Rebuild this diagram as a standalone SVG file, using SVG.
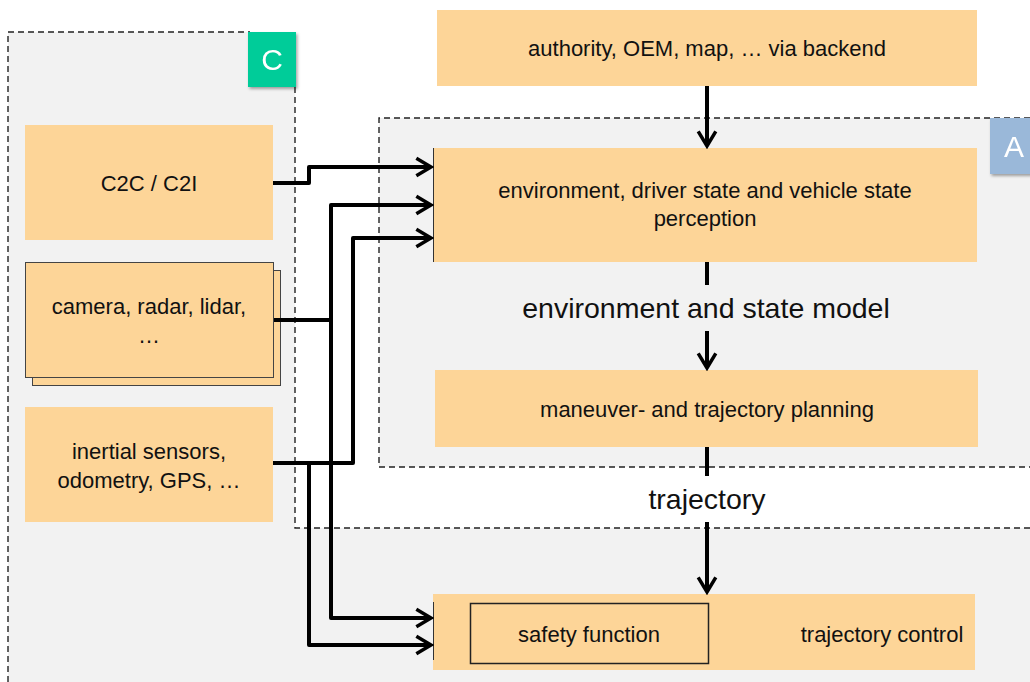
<svg xmlns="http://www.w3.org/2000/svg" width="1030" height="682" viewBox="0 0 1030 682">
<style>
.box{fill:#fdd598}
.t{font-family:"Liberation Sans",Arial,sans-serif;fill:#111;text-anchor:middle}
.s22{font-size:22px}
.s28{font-size:28.5px}
.region{fill:#f2f2f2}
.dash{fill:none;stroke:#222;stroke-width:1.4;stroke-dasharray:6,4}
.conn{fill:none;stroke:#000;stroke-width:4;stroke-linejoin:round}
.badge{font-family:"Liberation Sans",Arial,sans-serif;fill:#fff;font-size:30px;text-anchor:middle}
</style>
<defs>
<marker id="arr" viewBox="0 0 12 12" refX="10.5" refY="6" markerWidth="5.5" markerHeight="5.5" orient="auto" markerUnits="strokeWidth">
<path d="M2.5,1.2 L10.5,6 L2.5,10.8" fill="none" stroke="#000" stroke-width="1.9"/>
</marker>
<filter id="sh" x="-20%" y="-20%" width="150%" height="150%">
<feDropShadow dx="1.5" dy="2" stdDeviation="1.5" flood-color="#000" flood-opacity="0.35"/>
</filter>
</defs>
<rect width="1030" height="682" fill="#fff"/>

<g id="region-C">
<path class="region" d="M8,32 H295 V528 H1030 V682 H8 Z"/>
<path class="dash" d="M8,682 V32 H250 M295,87 V528 H1030"/>
</g>
<g id="region-A">
<rect class="region" x="379" y="118" width="660" height="349"/>
<path class="dash" d="M1030,118 H379 V467 H1030"/>
</g>

<g id="badge-C" filter="url(#sh)">
<rect x="248" y="32" width="48" height="55" fill="#00cc99"/>
<text class="badge" x="272" y="70">C</text>
</g>
<g id="badge-A" filter="url(#sh)">
<rect x="990" y="118" width="48" height="56" fill="#9ab8d9"/>
<text class="badge" x="1014" y="157">A</text>
</g>

<g id="backend">
<rect class="box" x="437" y="10" width="540" height="76"/>
<text class="t s22" x="707" y="56">authority, OEM, map, … via backend</text>
</g>
<g id="perception">
<rect class="box" x="433" y="148" width="544" height="114"/>
<line x1="433.5" y1="148" x2="433.5" y2="262" stroke="#333" stroke-width="1"/>
<text class="t s22" x="705" y="198">environment, driver state and vehicle state</text>
<text class="t s22" x="705" y="226">perception</text>
</g>
<g id="planning">
<rect class="box" x="435" y="370" width="543" height="77"/>
<text class="t s22" x="707" y="417">maneuver- and trajectory planning</text>
</g>
<g id="trajectory-control">
<rect class="box" x="433" y="594" width="542" height="76"/>
<line x1="433.5" y1="602" x2="433.5" y2="660" stroke="#333" stroke-width="1"/>
<rect x="470.5" y="603.5" width="238" height="60" fill="none" stroke="#222" stroke-width="1.5"/>
<text class="t s22" x="589" y="642">safety function</text>
<text class="t s22" x="882" y="642">trajectory control</text>
</g>
<g id="c2c">
<rect class="box" x="25" y="125" width="248" height="115"/>
<text class="t s22" x="149" y="191">C2C / C2I</text>
</g>
<g id="sensors">
<rect class="box" x="32.5" y="270.5" width="248" height="115" stroke="#444" stroke-width="1"/>
<rect class="box" x="25.5" y="262.5" width="248" height="115" stroke="#444" stroke-width="1"/>
<text class="t s22" x="149" y="314">camera, radar, lidar,</text>
<text class="t s22" x="149" y="343">…</text>
</g>
<g id="inertial">
<rect class="box" x="25" y="407" width="248" height="115"/>
<text class="t s22" x="149" y="459">inertial sensors,</text>
<text class="t s22" x="149" y="488">odometry, GPS, …</text>
</g>

<g id="connectors">
<line class="conn" x1="707" y1="86" x2="707" y2="146" marker-end="url(#arr)"/>
<line class="conn" x1="707" y1="262" x2="707" y2="368" marker-end="url(#arr)"/>
<line class="conn" x1="707" y1="447" x2="707" y2="592" marker-end="url(#arr)"/>
<polyline class="conn" points="273,183 309,183 309,167 431,167" marker-end="url(#arr)"/>
<polyline class="conn" points="274,320 331,320"/>
<polyline class="conn" points="331,320 331,205 431,205" marker-end="url(#arr)"/>
<polyline class="conn" points="331,320 331,618 431,618" marker-end="url(#arr)"/>
<polyline class="conn" points="273,463 353,463 353,238 431,238" marker-end="url(#arr)"/>
<polyline class="conn" points="309,463 309,645 431,645" marker-end="url(#arr)"/>
</g>

<g id="label-model">
<rect x="512" y="285" width="390" height="46" fill="#f2f2f2"/>
<text class="t s28" x="706" y="318">environment and state model</text>
</g>
<g id="label-trajectory">
<rect x="638" y="476" width="138" height="46" fill="#fff"/>
<text class="t s28" x="707" y="509">trajectory</text>
</g>
</svg>
